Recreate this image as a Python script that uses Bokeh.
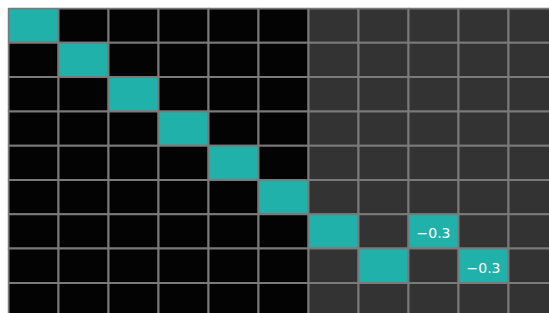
from bokeh.plotting import figure
from bokeh.models import ColumnDataSource, Range1d
from bokeh.core.properties import value
from bokeh.embed import file_html
from bokeh.resources import INLINE

# Variables (columns / rows) of the correlation matrix (visible part)
col_names = ["V1", "V2", "V3", "V4", "V5", "V6", "V7", "V8", "V9", "V10", "V11"]
row_names = ["V1", "V2", "V3", "V4", "V5", "V6", "V7", "V8", "V9"]

N = None
# correlation values; None = not available
matrix = [
    [1, N, N, N, N, N, 0, 0, 0, 0, 0],
    [N, 1, N, N, N, N, 0, 0, 0, 0, 0],
    [N, N, 1, N, N, N, 0, 0, 0, 0, 0],
    [N, N, N, 1, N, N, 0, 0, 0, 0, 0],
    [N, N, N, N, 1, N, 0, 0, 0, 0, 0],
    [N, N, N, N, N, 1, 0, 0, 0, 0, 0],
    [N, N, N, N, N, N, 1, 0, -0.3, 0, 0],
    [N, N, N, N, N, N, 0, 1, 0, -0.3, 0],
    [N, N, N, N, N, N, 0, 0, 0, 0, 0],
]

TEAL = "#20b2aa"
BLACK = "#030303"
DARK = "#333333"
GRID = "#7a7a7a"

xs, ys, colors, labels, lx, ly = [], [], [], [], [], []
for i, rname in enumerate(row_names):
    for j, cname in enumerate(col_names):
        v = matrix[i][j]
        xs.append(j + 0.5)
        ys.append(i + 0.5)
        if v is None:
            colors.append(BLACK)
        elif v == 0:
            colors.append(DARK)
        else:
            colors.append(TEAL)
        if v is not None and v not in (0, 1):
            labels.append(f"{v:.1f}".replace("-", "\u2212"))
            lx.append(j + 0.5)
            ly.append(i + 0.5)

W, H = 549, 313
PAD = 7
CW, CH = 50.0, 34.3
FW, FH = W - PAD, H - PAD
x0 = -1.0 / CW
y0 = -1.0 / CH
p = figure(width=W, height=H, output_backend="svg", toolbar_location=None,
           x_range=Range1d(x0, x0 + FW / CW),
           y_range=Range1d(y0 + FH / CH, y0),
           min_border_left=PAD, min_border_top=PAD,
           min_border_right=0, min_border_bottom=0)
p.axis.visible = False
p.grid.visible = False
p.outline_line_color = None
p.background_fill_color = "white"
p.border_fill_color = "white"

src = ColumnDataSource(dict(x=xs, y=ys, c=colors))
p.rect(x="x", y="y", width=1, height=1, source=src, fill_color="c",
       line_color=GRID, line_width=2)

tsrc = ColumnDataSource(dict(x=lx, y=ly, t=labels))
p.text(x="x", y="y", text="t", source=tsrc, text_color="white",
       text_font=value("DejaVu Sans"), text_font_size="14px",
       text_align="center", text_baseline="middle", y_offset=2)

open("out.html", "w").write(file_html(p, INLINE))
